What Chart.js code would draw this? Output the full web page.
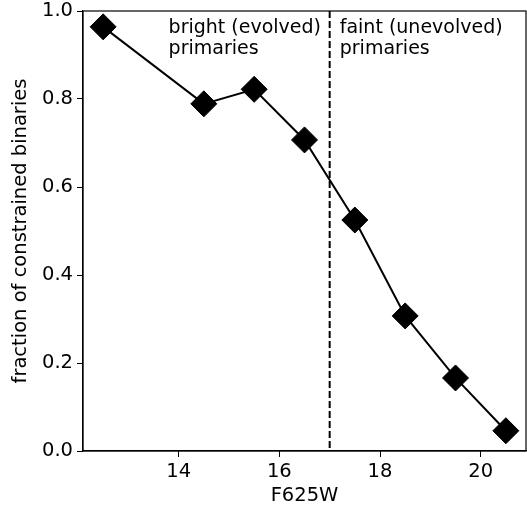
<!DOCTYPE html>
<html>
<head>
<meta charset="utf-8">
<script src="https://cdn.jsdelivr.net/npm/chart.js@4/dist/chart.umd.min.js"></script>
<style>
  html, body { margin: 0; padding: 0; background: #fff; overflow: hidden; }
</style>
</head>
<body>
<canvas id="chart" width="527" height="509"></canvas>
<script>
const magnitudes = [12.5, 14.5, 15.5, 16.5, 17.5, 18.5, 19.5, 20.5];
const fractions = [0.964, 0.789, 0.822, 0.707, 0.525, 0.307, 0.166, 0.046];
const xTicks = [14, 16, 18, 20];
const yTicks = [0, 0.2, 0.4, 0.6, 0.8, 1.0];
const divider = 17;
const labels = [
  { x: 13.8, lines: ['bright (evolved)', 'primaries'] },
  { x: 17.2, lines: ['faint (unevolved)', 'primaries'] }
];

const font = 'DejaVu Sans';

// dashed divider, annotations and the closed frame
const extras = {
  id: 'extras',
  afterDatasetsDraw(chart) {
    const { ctx, chartArea, scales } = chart;
    ctx.save();
    ctx.strokeStyle = '#000';
    ctx.lineWidth = 1.2;
    ctx.strokeRect(chartArea.left, chartArea.top, chartArea.right - chartArea.left, chartArea.bottom - chartArea.top);

    const dx = scales.x.getPixelForValue(divider);
    ctx.lineWidth = 2;
    ctx.setLineDash([7, 3]);
    ctx.beginPath();
    ctx.moveTo(dx, chartArea.top);
    ctx.lineTo(dx, chartArea.bottom);
    ctx.stroke();
    ctx.setLineDash([]);

    ctx.fillStyle = '#000';
    ctx.font = '19px "' + font + '"';
    ctx.textBaseline = 'alphabetic';
    ctx.textAlign = 'left';
    const base = scales.y.getPixelForValue(0.95);
    labels.forEach(l => {
      const px = scales.x.getPixelForValue(l.x);
      l.lines.forEach((t, i) => ctx.fillText(t, px, base + i * 21));
    });
    ctx.restore();
  }
};

const noPad = s => { s.paddingLeft = 0; s.paddingRight = 0; s.paddingTop = 0; s.paddingBottom = 0; };

new Chart(document.getElementById('chart'), {
  type: 'scatter',
  data: {
    datasets: [{
      data: magnitudes.map((m, i) => ({ x: m, y: fractions[i] })),
      showLine: true,
      borderColor: '#000',
      borderWidth: 2,
      backgroundColor: '#000',
      pointStyle: 'rectRot',
      pointRadius: 13,
      pointHoverRadius: 13,
      pointBorderWidth: 1,
      pointBorderColor: '#000',
      clip: false
    }]
  },
  options: {
    responsive: false,
    devicePixelRatio: 1,
    animation: false,
    events: [],
    layout: { autoPadding: false, padding: { top: 11, right: 1, left: 0, bottom: 0 } },
    plugins: { legend: { display: false }, tooltip: { enabled: false } },
    scales: {
      x: {
        type: 'linear',
        min: 12.1,
        max: 20.9,
        afterBuildTicks: s => { s.ticks = xTicks.map(v => ({ value: v })); },
        afterFit: s => { s.height = 58; noPad(s); },
        grid: { drawOnChartArea: false, tickLength: 6, color: '#000', tickColor: '#000' },
        border: { display: true, color: '#000', width: 1.2 },
        ticks: { color: '#000', font: { family: font, size: 19.5 }, padding: 3, maxRotation: 0 },
        title: { display: true, text: 'F625W', color: '#000', font: { family: font, size: 19.5 }, padding: { top: 0, bottom: 1 } }
      },
      y: {
        type: 'linear',
        min: 0,
        max: 1,
        afterBuildTicks: s => { s.ticks = yTicks.map(v => ({ value: v })); },
        afterFit: s => { s.width = 83; noPad(s); },
        grid: { drawOnChartArea: false, tickLength: 6, color: '#000', tickColor: '#000' },
        border: { display: true, color: '#000', width: 1.2 },
        ticks: { color: '#000', font: { family: font, size: 19.5 }, padding: 4, callback: v => v.toFixed(1) },
        title: { display: true, text: 'fraction of constrained binaries', color: '#000', font: { family: font, size: 19.5 }, padding: { top: 9, bottom: 0 } }
      }
    }
  },
  plugins: [extras]
});
</script>
</body>
</html>
